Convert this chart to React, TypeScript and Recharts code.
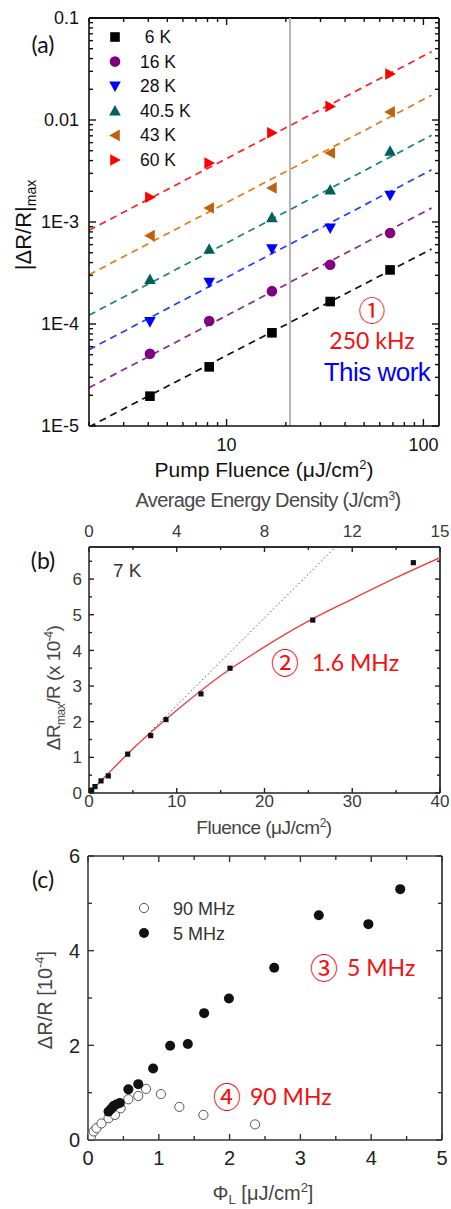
import React from "react";
import { ComposedChart, Line, Scatter, XAxis, YAxis, ReferenceLine } from "recharts";

// ---------- (a) |dR/R|max vs pump fluence (log-log) ----------
const fluenceA = [4.08, 8.16, 17.0, 33.6, 67.7];
const tempLabels = [" 6 K", "16 K", "28 K", "40.5 K", "43 K", "60 K"];
const dr6K = [1.96e-5, 3.8e-5, 8.2e-5, 1.66e-4, 3.39e-4];
const dr16K = [5.1e-5, 1.07e-4, 2.1e-4, 3.81e-4, 7.8e-4];
const dr28K = [1.05e-4, 2.55e-4, 5.43e-4, 8.67e-4, 1.82e-3];
const dr405K = [2.75e-4, 5.43e-4, 1.11e-3, 2.07e-3, 4.96e-3];
const dr43K = [7.35e-4, 1.37e-3, 2.16e-3, 4.74e-3, 1.2e-2];
const dr60K = [1.75e-3, 3.78e-3, 7.5e-3, 1.36e-2, 2.82e-2];
// dashed fits, value at each end
const fitX = [2, 110];
const fit6K = [9.8e-6, 5.43e-4];
const fit16K = [2.37e-5, 1.37e-3];
const fit28K = [5.6e-5, 3.25e-3];
const fit405K = [1.22e-4, 7.08e-3];
const fit43K = [3.04e-4, 1.75e-2];
const fit60K = [8.3e-4, 4.67e-2];
const gapFluence = 21;
const domXA = [2, 120];
const domYA = [1e-5, 0.1];
const xMajorA = [10, 100];
const xLabelA = ["10", "100"];
const yMajorA = [1e-5, 1e-4, 1e-3, 0.01, 0.1];
const yLabelA = ["1E-5", "1E-4", "1E-3", "0.01", "0.1"];

// ---------- (b) 7 K, 1.6 MHz ----------
const fluenceB = [0.3, 0.68, 1.37, 2.2, 4.41, 7.03, 8.77, 12.76, 16.07, 25.5, 36.96];
const drB = [0.08, 0.18, 0.34, 0.48, 1.09, 1.61, 2.06, 2.78, 3.5, 4.85, 6.46];
const fitBx = [0, 2, 5, 10, 15, 20, 25, 30, 35, 40];
const fitBy = [0, 0.5, 1.24, 2.32, 3.29, 4.1, 4.82, 5.44, 6.04, 6.6];
const linBx = [0, 28.1];
const linBy = [0, 6.9];
const domXB = [0, 40];
const domYB = [0, 6.9];
const xTicksB = [0, 5, 10, 15, 20, 25, 30, 35, 40];
const xMajorB = [0, 10, 20, 30, 40];
const xLabelB = ["0", "10", "20", "30", "40"];
const topTicksB = [0, 2, 4, 6, 8, 10, 12, 14, 16];
const topMajorB = [0, 4, 8, 12, 16];
const topLabelB = ["0", "4", "8", "12", "15"];
const yTicksB = [0, 0.5, 1, 1.5, 2, 2.5, 3, 3.5, 4, 4.5, 5, 5.5, 6, 6.5];
const yMajorB = [0, 1, 2, 3, 4, 5, 6];
const yLabelB = ["0", "1", "2", "3", "4", "5", "6"];

// ---------- (c) 90 MHz vs 5 MHz ----------
const phi5 = [0.29, 0.33, 0.36, 0.4, 0.45, 0.57, 0.71, 0.92, 1.16, 1.41, 1.64, 1.99, 2.63, 3.26, 3.96, 4.41];
const dr5 = [0.6, 0.66, 0.72, 0.75, 0.78, 1.07, 1.18, 1.51, 1.99, 2.03, 2.68, 2.99, 3.64, 4.75, 4.56, 5.3];
const phi90 = [0.04, 0.08, 0.12, 0.19, 0.29, 0.38, 0.46, 0.57, 0.71, 0.82, 1.03, 1.29, 1.63, 2.36];
const dr90 = [0.07, 0.18, 0.25, 0.35, 0.46, 0.53, 0.67, 0.86, 0.93, 1.08, 0.97, 0.7, 0.53, 0.33];
const domXC = [0, 5];
const domYC = [0, 6];
const xTicksC = [0, 0.5, 1, 1.5, 2, 2.5, 3, 3.5, 4, 4.5, 5];
const xMajorC = [0, 1, 2, 3, 4, 5];
const xLabelC = ["0", "1", "2", "3", "4", "5"];
const yTicksC = [0, 1, 2, 3, 4, 5, 6];
const yMajorC = [0, 2, 4, 6];
const yLabelC = ["0", "2", "4", "6"];
const legendC = ["90 MHz", "5 MHz"];

const zip = (xs: number[], ys: number[]) => xs.map((x, i) => ({ x, y: ys[i] }));

const logTicks = (lo: number, hi: number) => {
  const out: number[] = [];
  for (let e = Math.floor(Math.log10(lo)); e <= Math.ceil(Math.log10(hi)); e++)
    for (let m = 1; m < 10; m++) {
      const v = +(m * Math.pow(10, e)).toPrecision(6);
      if (v >= lo * 0.999 && v <= hi * 1.001) out.push(v);
    }
  return out;
};
const xTicksA = logTicks(domXA[0], domXA[1]);
const yTicksA = logTicks(domYA[0], domYA[1]);

const seriesA = [
  { name: tempLabels[0], pts: dr6K, fit: fit6K, kind: "square", color: "#000000", dash: "#111111" },
  { name: tempLabels[1], pts: dr16K, fit: fit16K, kind: "circle", color: "#800080", dash: "#8a2a8a" },
  { name: tempLabels[2], pts: dr28K, fit: fit28K, kind: "down", color: "#0000ff", dash: "#2040ff" },
  { name: tempLabels[3], pts: dr405K, fit: fit405K, kind: "up", color: "#00615a", dash: "#1f8079" },
  { name: tempLabels[4], pts: dr43K, fit: fit43K, kind: "left", color: "#c0620c", dash: "#e07e14" },
  { name: tempLabels[5], pts: dr60K, fit: fit60K, kind: "right", color: "#ff0000", dash: "#ff2020" },
];

const ARIAL = "'Liberation Sans', Arial, sans-serif";
const CAL = "Lato, 'Open Sans', sans-serif";
const CJK = "'Noto Sans CJK JP', sans-serif";
const RED = "#f21010";

function Marker({ kind, cx, cy, color }: { kind: string; cx: number; cy: number; color: string }) {
  const h = 5.8;
  switch (kind) {
    case "square":
      return <rect x={cx - 4.8} y={cy - 4.8} width={9.6} height={9.6} fill={color} />;
    case "circle":
      return <circle cx={cx} cy={cy} r={5.3} fill={color} />;
    case "down":
      return <polygon points={`${cx - h},${cy - h + 1} ${cx + h},${cy - h + 1} ${cx},${cy + h}`} fill={color} />;
    case "up":
      return <polygon points={`${cx - h},${cy + h - 1} ${cx + h},${cy + h - 1} ${cx},${cy - h}`} fill={color} />;
    case "left":
      return <polygon points={`${cx + h - 1},${cy - h} ${cx + h - 1},${cy + h} ${cx - h},${cy}`} fill={color} />;
    default:
      return <polygon points={`${cx - h + 1},${cy - h} ${cx - h + 1},${cy + h} ${cx + h},${cy}`} fill={color} />;
  }
}

type Side = "left" | "top" | "bottom";
interface TickStyle {
  side: Side;
  majors: number[];
  labels?: string[];
  font?: number;
  color?: string;
  major: number;
  minor: number;
  gap?: number;
  stroke: string;
  mirror?: number; // distance to the opposite frame edge, ticks repeated there
}
const near = (a: number, b: number) => Math.abs(a - b) <= 1e-6 * Math.max(Math.abs(a), Math.abs(b), 1e-12);

// inward tick marks (major/minor), mirrored on the opposite side, labels only on majors
function makeTick(st: TickStyle) {
  return (props: any) => {
    const { x, y, payload } = props;
    const v = Number(payload.value);
    const idx = st.majors.findIndex((m) => near(m, v));
    const len = idx >= 0 ? st.major : st.minor;
    const label = idx >= 0 && st.labels ? st.labels[idx] : null;
    const f = st.font ?? 16;
    const g = st.gap ?? 6;
    const m = st.mirror ?? 0;
    const lines: number[][] = [];
    let tx = x, ty = y, anchor = "middle";
    if (st.side === "bottom") {
      lines.push([x, y, x, y - len]);
      if (m) lines.push([x, y - m, x, y - m + len]);
      ty = y + g + f * 0.72;
    } else if (st.side === "top") {
      lines.push([x, y, x, y + len]);
      ty = y - g;
    } else {
      lines.push([x, y, x + len, y]);
      if (m) lines.push([x + m, y, x + m - len, y]);
      tx = x - g;
      ty = y + f * 0.36;
      anchor = "end";
    }
    return (
      <g>
        {lines.map((l, i) => (
          <line key={i} x1={l[0]} y1={l[1]} x2={l[2]} y2={l[3]} stroke={st.stroke} strokeWidth={1.4} />
        ))}
        {label !== null && (
          <text x={tx} y={ty} textAnchor={anchor as any} fontSize={f} fill={st.color ?? "#111"} fontFamily={ARIAL}>
            {label}
          </text>
        )}
      </g>
    );
  };
}

const common = { tickSize: 0, tickMargin: 0, tickLine: false, interval: 0 as const, allowDataOverflow: true };

function PanelA() {
  const frame = { stroke: "#111", strokeWidth: 1.6 };
  return (
    <ComposedChart width={451} height={480} margin={{ top: 18, right: 12, bottom: 0, left: 0 }}>
      <XAxis dataKey="x" type="number" scale="log" domain={domXA} ticks={xTicksA} height={54} axisLine={frame} {...common}
        tick={makeTick({ side: "bottom", majors: xMajorA, labels: xLabelA, font: 18, gap: 12, major: 7, minor: 4, stroke: "#111", mirror: 408 })} />
      <YAxis dataKey="y" type="number" scale="log" domain={domYA} ticks={yTicksA} width={89} axisLine={frame} {...common}
        tick={makeTick({ side: "left", majors: yMajorA, labels: yLabelA, font: 18, gap: 10, major: 7, minor: 4, stroke: "#111", mirror: 350 })} />
      <ReferenceLine y={domYA[1]} stroke="#111" strokeWidth={1.8} ifOverflow="visible" />
      <ReferenceLine x={domXA[1]} stroke="#111" strokeWidth={1.8} ifOverflow="visible" />
      <ReferenceLine x={gapFluence} stroke="#b5b5b5" strokeWidth={2} />
      {seriesA.map((s) => (
        <Line key={"f" + s.name} data={zip(fitX, s.fit)} dataKey="y" type="linear" stroke={s.dash} strokeWidth={1.7}
          strokeDasharray="7 5" dot={false} activeDot={false} isAnimationActive={false} />
      ))}
      {seriesA.map((s) => (
        <Scatter key={"s" + s.name} data={zip(fluenceA, s.pts)} dataKey="y" isAnimationActive={false}
          shape={(p: any) => <Marker kind={s.kind} cx={p.cx} cy={p.cy} color={s.color} />} />
      ))}
    </ComposedChart>
  );
}

function PanelB() {
  const frame = { stroke: "#222", strokeWidth: 1.5 };
  const lab = { font: 17, color: "#3a3a3a", stroke: "#222" };
  return (
    <ComposedChart width={451} height={360} margin={{ top: 0, right: 11, bottom: 0, left: 0 }}>
      <XAxis xAxisId={0} dataKey="x" type="number" domain={domXB} ticks={xTicksB} height={47} axisLine={frame} {...common}
        tick={makeTick({ side: "bottom", majors: xMajorB, labels: xLabelB, gap: 2, major: 5, minor: 3, ...lab })} />
      <XAxis xAxisId="t" dataKey="x" orientation="top" type="number" domain={[0, 16]} ticks={topTicksB} height={67} axisLine={frame} {...common}
        tick={makeTick({ side: "top", majors: topMajorB, labels: topLabelB, gap: 10, major: 5, minor: 3, ...lab })} />
      <YAxis dataKey="y" type="number" domain={domYB} ticks={yTicksB} width={89} axisLine={frame} {...common}
        tick={makeTick({ side: "left", majors: yMajorB, labels: yLabelB, gap: 7, major: 5, minor: 3, ...lab, mirror: 351 })} />
      <Scatter xAxisId="t" data={[]} dataKey="y" isAnimationActive={false} />
      <ReferenceLine y={domYB[1]} stroke="#222" strokeWidth={1.7} ifOverflow="visible" />
      <ReferenceLine x={domXB[1]} stroke="#222" strokeWidth={1.7} ifOverflow="visible" />
      <Line data={zip(linBx, linBy)} dataKey="y" type="linear" stroke="#555" strokeWidth={1}
        strokeDasharray="1.5 2.5" dot={false} activeDot={false} isAnimationActive={false} />
      <Line data={zip(fitBx, fitBy)} dataKey="y" type="monotone" stroke="#f03c3c" strokeWidth={1.3}
        dot={false} activeDot={false} isAnimationActive={false} />
      <Scatter data={zip(fluenceB, drB)} dataKey="y" isAnimationActive={false}
        shape={(p: any) => <rect x={p.cx - 2.6} y={p.cy - 2.6} width={5.2} height={5.2} fill="#111" />} />
    </ComposedChart>
  );
}

function PanelC() {
  const frame = { stroke: "#333", strokeWidth: 1.5 };
  const lab = { font: 20, color: "#222", stroke: "#333" };
  return (
    <ComposedChart width={451} height={369} margin={{ top: 16, right: 9, bottom: 0, left: 0 }}>
      <XAxis dataKey="x" type="number" domain={domXC} ticks={xTicksC} height={69} axisLine={frame} {...common}
        tick={makeTick({ side: "bottom", majors: xMajorC, labels: xLabelC, gap: 10.5, major: 6, minor: 4, ...lab, mirror: 284 })} />
      <YAxis dataKey="y" type="number" domain={domYC} ticks={yTicksC} width={88} axisLine={frame} {...common}
        tick={makeTick({ side: "left", majors: yMajorC, labels: yLabelC, gap: 8, major: 6, minor: 4, ...lab, mirror: 354 })} />
      <ReferenceLine y={domYC[1]} stroke="#333" strokeWidth={1.7} ifOverflow="visible" />
      <ReferenceLine x={domXC[1]} stroke="#333" strokeWidth={1.7} ifOverflow="visible" />
      <Scatter data={zip(phi90, dr90)} dataKey="y" isAnimationActive={false}
        shape={(p: any) => <circle cx={p.cx} cy={p.cy} r={4.6} fill="#fff" stroke="#555" strokeWidth={1} />} />
      <Scatter data={zip(phi5, dr5)} dataKey="y" isAnimationActive={false}
        shape={(p: any) => <circle cx={p.cx} cy={p.cy} r={5} fill="#111" />} />
    </ComposedChart>
  );
}

function Overlay() {
  return (
    <svg width={451} height={1209} style={{ position: "absolute", left: 0, top: 0, pointerEvents: "none" }}>
      {/* panel letters */}
      <text x={43} y={53} textAnchor="middle" fontSize={23} fontFamily={CAL} fill="#111">(a)</text>
      <text x={43} y={569} textAnchor="middle" fontSize={23} fontFamily={CAL} fill="#111">(b)</text>
      <text x={43} y={888} textAnchor="middle" fontSize={23} fontFamily={CAL} fill="#111">(c)</text>

      {/* legend (a) */}
      {seriesA.map((s, i) => (
        <g key={s.name}>
          <Marker kind={s.kind} cx={115} cy={37 + 24.6 * i} color={s.color} />
          <text x={140} y={37 + 24.6 * i + 6} fontSize={17.5} fontFamily={ARIAL} fill="#111" style={{ whiteSpace: "pre" }}>
            {s.name}
          </text>
        </g>
      ))}

      {/* axis titles (a) */}
      <text transform="translate(31,225) rotate(-90)" textAnchor="middle" fontSize={22} fontFamily={ARIAL} fill="#111">
        |ΔR/R|<tspan dy={5} fontSize={14}>max</tspan>
      </text>
      <text x={264} y={477} textAnchor="middle" fontSize={21} fontFamily={ARIAL} fill="#111">
        Pump Fluence (μJ/cm<tspan dy={-8} fontSize={13}>2</tspan><tspan dy={8}>)</tspan>
      </text>

      {/* annotations (a) */}
      <text x={372} y={321} textAnchor="middle" fontSize={27} fontFamily={CJK} fill={RED}>①</text>
      <text x={372} y={349} textAnchor="middle" fontSize={23} fontFamily={CAL} fill={RED}>250 kHz</text>
      <text x={377} y={381} textAnchor="middle" fontSize={26} fontFamily={ARIAL} fill="#0000ff" letterSpacing={-0.5}>This work</text>

      {/* (b) */}
      <text x={268} y={507} textAnchor="middle" fontSize={20} fontFamily={ARIAL} fill="#484848" letterSpacing={-0.6}>
        Average Energy Density (J/cm<tspan dy={-7} fontSize={12}>3</tspan><tspan dy={7}>)</tspan>
      </text>
      <text x={113} y={577} fontSize={19} fontFamily={ARIAL} fill="#333">7 K</text>
      <text transform="translate(60,688) rotate(-90)" textAnchor="middle" fontSize={19} fontFamily={ARIAL} fill="#444" letterSpacing={-0.5}>
        ΔR<tspan dy={5} fontSize={12}>max</tspan><tspan dy={-5}>/R (x 10</tspan><tspan dy={-7} fontSize={12}>-4</tspan><tspan dy={7}>)</tspan>
      </text>
      <text x={264} y={834} textAnchor="middle" fontSize={19} fontFamily={ARIAL} fill="#444" letterSpacing={-0.5}>
        Fluence (μJ/cm<tspan dy={-7} fontSize={12}>2</tspan><tspan dy={7}>)</tspan>
      </text>
      <text x={285} y={674} textAnchor="middle" fontSize={28} fontFamily={CJK} fill={RED}>②</text>
      <text x={312} y={671} fontSize={23} fontFamily={CAL} fill={RED}>1.6 MHz</text>

      {/* (c) */}
      <circle cx={144} cy={908} r={4.6} fill="#fff" stroke="#555" strokeWidth={1} />
      <text x={173} y={914.5} fontSize={18} fontFamily={ARIAL} fill="#333">{legendC[0]}</text>
      <circle cx={144} cy={933} r={5} fill="#111" />
      <text x={173} y={939.5} fontSize={18} fontFamily={ARIAL} fill="#333">{legendC[1]}</text>
      <text transform="translate(52,1000) rotate(-90)" textAnchor="middle" fontSize={20} fontFamily={ARIAL} fill="#444">
        ΔR/R [10<tspan dy={-8} fontSize={13}>-4</tspan><tspan dy={8}>]</tspan>
      </text>
      <text x={263} y={1200} textAnchor="middle" fontSize={20} fontFamily={ARIAL} fill="#444">
        Φ<tspan dy={4} fontSize={13}>L</tspan><tspan dy={-4}> [μJ/cm</tspan><tspan dy={-8} fontSize={13}>2</tspan><tspan dy={8}>]</tspan>
      </text>
      <text x={324} y={978.5} textAnchor="middle" fontSize={28} fontFamily={CJK} fill={RED}>③</text>
      <text x={347} y={976} fontSize={23} fontFamily={CAL} fill={RED}>5 MHz</text>
      <text x={227} y={1107.5} textAnchor="middle" fontSize={28} fontFamily={CJK} fill={RED}>④</text>
      <text x={250} y={1105} fontSize={23} fontFamily={CAL} fill={RED}>90 MHz</text>
    </svg>
  );
}

export default function App() {
  return (
    <div style={{ position: "relative", width: 451, height: 1209, background: "#fff", overflow: "hidden" }}>
      <style>{"body{margin:0}"}</style>
      <div style={{ position: "absolute", left: 0, top: 0 }}>
        <PanelA />
      </div>
      <div style={{ position: "absolute", left: 0, top: 480 }}>
        <PanelB />
      </div>
      <div style={{ position: "absolute", left: 0, top: 840 }}>
        <PanelC />
      </div>
      <Overlay />
    </div>
  );
}
